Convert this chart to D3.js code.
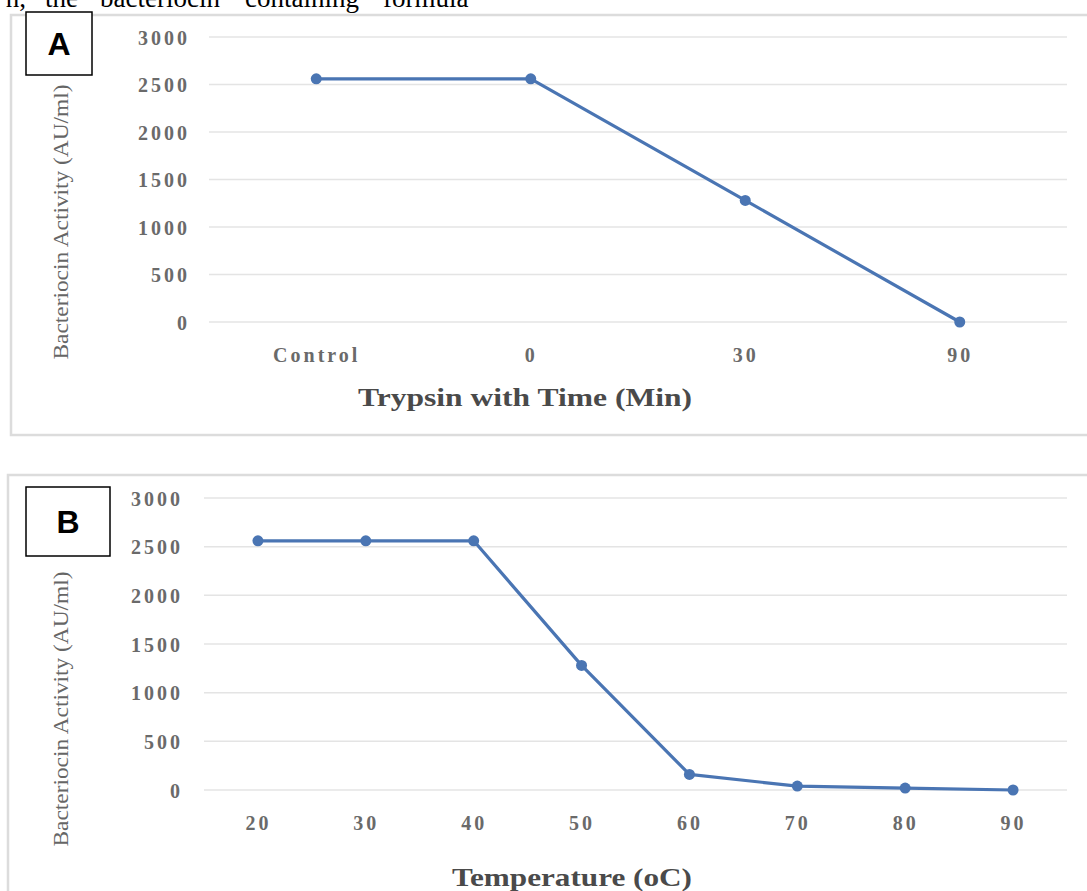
<!DOCTYPE html>
<html>
<head>
<meta charset="utf-8">
<script src="https://cdn.jsdelivr.net/npm/d3@7"></script>
<style>
  html, body { margin: 0; padding: 0; background: #fff; }
  svg { display: block; }
</style>
</head>
<body>
<svg id="chart" width="1087" height="891"></svg>
<script>
// ---- Data ----
const trypsinCategories = ["Control", "0", "30", "90"];
const trypsinActivity = [2560, 2560, 1280, 0];

const temperatureCategories = ["20", "30", "40", "50", "60", "70", "80", "90"];
const temperatureActivity = [2560, 2560, 2560, 1280, 160, 40, 20, 0];

const yTicks = [0, 500, 1000, 1500, 2000, 2500, 3000];

const titleA = "Trypsin with Time (Min)";
const titleB = "Temperature (oC)";
const yTitle = "Bacteriocin Activity (AU/ml)";
const headerWords = ["n,", "the", "bacteriocin", "containing", "formula"];

// ---- Drawing ----
const svg = d3.select("#chart");
const lineColor = "#4a75b3";
const serif = "'Liberation Serif', 'Times New Roman', serif";

// header text (cut off at top)
const headerX = [26, 45, 100, 245, 383];
svg.append("g").selectAll("text").data(headerWords).join("text")
  .attr("x", (d, i) => headerX[i])
  .attr("y", 7)
  .attr("text-anchor", (d, i) => i === 0 ? "end" : "start")
  .attr("font-family", serif)
  .attr("font-size", 27)
  .attr("fill", "#000")
  .text(d => d);

function panel(cfg) {
  const g = svg.append("g");
  // frame
  g.append("rect")
    .attr("x", cfg.frame[0]).attr("y", cfg.frame[1])
    .attr("width", cfg.frame[2]).attr("height", cfg.frame[3])
    .attr("fill", "#fff").attr("stroke", "#dcdcdc").attr("stroke-width", 2.5);

  const x = d3.scalePoint().domain(cfg.categories).range(cfg.xRange).padding(0.5);
  const y = d3.scaleLinear().domain([0, 3000]).range(cfg.yRange);

  // gridlines
  g.append("g").selectAll("line").data(yTicks).join("line")
    .attr("x1", cfg.xRange[0]).attr("x2", cfg.xRange[1])
    .attr("y1", d => y(d)).attr("y2", d => y(d))
    .attr("stroke", "#e4e4e4").attr("stroke-width", 1.5);

  // y axis labels
  const yAxis = d3.axisLeft(y).tickValues(yTicks).tickSize(0).tickPadding(0).tickFormat(d3.format("d"));
  const ya = g.append("g").attr("transform", `translate(${cfg.yLabelX},0)`).call(yAxis);
  ya.select(".domain").remove();
  ya.selectAll("text")
    .attr("font-family", serif).attr("font-size", 20).attr("font-weight", "bold")
    .attr("fill", "#6a6a6a").attr("letter-spacing", "3px").attr("dy", "0.35em");

  // x axis labels
  const xAxis = d3.axisBottom(x).tickSize(0).tickPadding(0);
  const xa = g.append("g").attr("transform", `translate(0,${cfg.xLabelY})`).call(xAxis);
  xa.select(".domain").remove();
  xa.selectAll("text")
    .attr("font-family", serif).attr("font-size", 20).attr("font-weight", "bold")
    .attr("fill", "#6a6a6a").attr("letter-spacing", "3px").attr("dy", "0.35em").attr("y", 0);

  // line
  const data = cfg.categories.map((c, i) => ({ c, v: cfg.values[i] }));
  g.append("path").datum(data)
    .attr("fill", "none").attr("stroke", lineColor).attr("stroke-width", 3.2)
    .attr("stroke-linejoin", "round")
    .attr("d", d3.line().x(d => x(d.c)).y(d => y(d.v)));
  g.append("g").selectAll("circle").data(data).join("circle")
    .attr("cx", d => x(d.c)).attr("cy", d => y(d.v)).attr("r", 5.5)
    .attr("fill", lineColor);

  // x title
  g.append("text")
    .attr("x", cfg.titlePos[0]).attr("y", cfg.titlePos[1]).attr("dy", "0.35em")
    .attr("text-anchor", "middle")
    .attr("font-family", serif).attr("font-size", 26).attr("font-weight", "bold")
    .attr("fill", "#4a4a4a")
    .attr("textLength", cfg.titleLen).attr("lengthAdjust", "spacingAndGlyphs")
    .text(cfg.title);

  // y title
  g.append("text")
    .attr("transform", `translate(${cfg.yTitlePos[0]},${cfg.yTitlePos[1]}) rotate(-90)`)
    .attr("text-anchor", "middle").attr("dy", "0.35em")
    .attr("font-family", serif).attr("font-size", 22)
    .attr("fill", "#666")
    .attr("textLength", 275).attr("lengthAdjust", "spacingAndGlyphs")
    .text(yTitle);

  // letter box
  g.append("rect")
    .attr("x", cfg.box[0]).attr("y", cfg.box[1]).attr("width", cfg.box[2]).attr("height", cfg.box[3])
    .attr("fill", "#fff").attr("stroke", "#000").attr("stroke-width", 1.5);
  g.append("text")
    .attr("x", cfg.box[0] + cfg.box[2] / 2).attr("y", cfg.box[1] + cfg.box[3] / 2).attr("dy", "0.36em")
    .attr("text-anchor", "middle")
    .attr("font-family", "'Liberation Sans', Arial, sans-serif").attr("font-size", 32).attr("font-weight", "bold")
    .attr("fill", "#000")
    .text(cfg.letter);
}

panel({
  frame: [11, 15, 1100, 420],
  categories: trypsinCategories, values: trypsinActivity,
  xRange: [209, 1067], yRange: [322, 37],
  yLabelX: 190, xLabelY: 355,
  title: titleA, titlePos: [525, 397], titleLen: 334,
  yTitlePos: [60, 222],
  box: [26, 12, 66, 63], letter: "A"
});

panel({
  frame: [8, 475, 1100, 440],
  categories: temperatureCategories, values: temperatureActivity,
  xRange: [204, 1067], yRange: [790, 498],
  yLabelX: 183, xLabelY: 823,
  title: titleB, titlePos: [572, 877], titleLen: 240,
  yTitlePos: [60, 709],
  box: [26, 487, 84, 69], letter: "B"
});
</script>
</body>
</html>
